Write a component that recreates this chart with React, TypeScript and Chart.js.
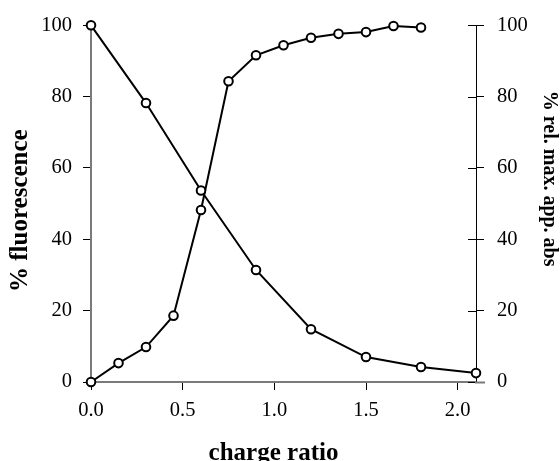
import { useEffect, useRef } from "react";
import { Chart, registerables } from "chart.js";

Chart.register(...registerables);

// ---- data ----
const fluorX = [0, 0.3, 0.6, 0.9, 1.2, 1.5, 1.8, 2.1];
const fluorY = [100, 78.2, 53.7, 31.4, 14.8, 7.0, 4.2, 2.5];
const absX = [0, 0.15, 0.3, 0.45, 0.6, 0.75, 0.9, 1.05, 1.2, 1.35, 1.5, 1.65, 1.8];
const absY = [0, 5.3, 9.8, 18.6, 48.2, 84.3, 91.6, 94.4, 96.5, 97.6, 98.1, 99.8, 99.4];
const xTicks = [0, 0.5, 1.0, 1.5, 2.0];
const yTicks = [0, 20, 40, 60, 80, 100];
const xTitle = "charge ratio";
const yLeftTitle = "% fluorescence";
const yRightTitle = "% rel. max. app. abs";

const FONT = "'Liberation Serif', 'Times New Roman', serif";
const GRAY = "#7a7a7a";

const extrasPlugin = {
  id: "extras",
  beforeDatasetsDraw(chart: any) {
    const ctx = chart.ctx;
    const y1 = chart.scales.y1;
    const x = chart.scales.x;
    ctx.save();
    // inward part of right-axis ticks
    ctx.strokeStyle = "#000";
    ctx.lineWidth = 1;
    yTicks.forEach((v) => {
      const py = Math.round(y1.getPixelForValue(v)) + 0.5;
      ctx.beginPath();
      ctx.moveTo(y1.left - 8, py);
      ctx.lineTo(y1.left, py);
      ctx.stroke();
    });
    // x-axis line extending past the right axis
    ctx.strokeStyle = GRAY;
    ctx.lineWidth = 2;
    const yb = x.top + 0.5;
    ctx.beginPath();
    ctx.moveTo(chart.chartArea.right - 1, yb);
    ctx.lineTo(chart.chartArea.right + 9, yb);
    ctx.stroke();
    ctx.restore();
  },
  afterDraw(chart: any) {
    const ctx = chart.ctx;
    const area = chart.chartArea;
    const midY = (area.top + area.bottom) / 2;
    const midX = (area.left + area.right) / 2;
    ctx.save();
    ctx.fillStyle = "#000";
    ctx.textAlign = "center";
    ctx.textBaseline = "middle";

    // left axis title
    ctx.save();
    ctx.font = `bold 25px ${FONT}`;
    ctx.translate(21, midY + 7);
    ctx.rotate(-Math.PI / 2);
    ctx.fillText(yLeftTitle, 0, 0);
    ctx.restore();

    // bottom axis title
    ctx.save();
    ctx.font = `bold 25px ${FONT}`;
    ctx.fillText(xTitle, midX - 10, area.bottom + 71.5);
    ctx.restore();

    // right axis title
    ctx.save();
    ctx.font = `bold 20px ${FONT}`;
    ctx.translate(area.right + 73, midY - 25);
    ctx.rotate(Math.PI / 2);
    ctx.fillText(yRightTitle, 0, 0);
    ctx.restore();

    ctx.restore();
  },
};

export default function App() {
  const ref = useRef<HTMLCanvasElement | null>(null);

  useEffect(() => {
    document.body.style.margin = "0";
    const canvas = ref.current;
    if (!canvas) return;

    const pointStyle = {
      pointRadius: 4.3,
      pointHoverRadius: 4.3,
      pointBorderWidth: 2,
      pointBackgroundColor: "#fff",
      pointBorderColor: "#000",
      borderColor: "#000",
      borderWidth: 2,
      tension: 0,
      clip: false as any,
      showLine: true,
    };

    const tickFont = { family: FONT, size: 20.5 };
    const gridOpts = {
      drawOnChartArea: false,
      drawTicks: true,
      tickLength: 8,
      tickColor: "#000",
      tickWidth: 1,
    };

    const chart = new Chart(canvas, {
      type: "scatter",
      data: {
        datasets: [
          {
            label: yLeftTitle,
            data: fluorX.map((v, i) => ({ x: v, y: fluorY[i] })),
            yAxisID: "y",
            ...pointStyle,
          },
          {
            label: yRightTitle,
            data: absX.map((v, i) => ({ x: v, y: absY[i] })),
            yAxisID: "y1",
            ...pointStyle,
          },
        ],
      },
      options: {
        responsive: false,
        animation: false,
        devicePixelRatio: 1,
        layout: { padding: { top: 22, left: 0, right: 0, bottom: 0 } },
        plugins: {
          legend: { display: false },
          tooltip: { enabled: false },
        },
        scales: {
          x: {
            type: "linear",
            position: "bottom",
            min: 0,
            max: 2.1,
            afterBuildTicks: (s: any) => {
              s.ticks = xTicks.map((v) => ({ value: v }));
            },
            afterFit: (s: any) => {
              s.height = 79;
            },
            ticks: {
              color: "#000",
              font: tickFont,
              padding: 8,
              maxRotation: 0,
              callback: (v: any) => Number(v).toFixed(1),
            },
            grid: gridOpts,
            border: { display: true, color: GRAY, width: 2 },
            title: { display: false, text: xTitle },
          },
          y: {
            type: "linear",
            position: "left",
            min: 0,
            max: 100,
            afterBuildTicks: (s: any) => {
              s.ticks = yTicks.map((v) => ({ value: v }));
            },
            afterFit: (s: any) => {
              s.width = 91;
            },
            ticks: {
              color: "#000",
              font: tickFont,
              padding: 11,
            },
            grid: gridOpts,
            border: { display: true, color: GRAY, width: 2 },
            title: { display: false, text: yLeftTitle },
          },
          y1: {
            type: "linear",
            position: "right",
            min: 0,
            max: 100,
            afterBuildTicks: (s: any) => {
              s.ticks = yTicks.map((v) => ({ value: v }));
            },
            afterFit: (s: any) => {
              s.width = 84;
            },
            ticks: {
              color: "#000",
              font: tickFont,
              padding: 13,
            },
            grid: gridOpts,
            border: { display: true, color: "#000", width: 1 },
            title: { display: false, text: yRightTitle },
          },
        },
      },
      plugins: [extrasPlugin],
    });

    return () => chart.destroy();
  }, []);

  return (
    <div style={{ width: 560, height: 461 }}>
      <canvas ref={ref} width={560} height={461} style={{ width: 560, height: 461, display: "block" }} />
    </div>
  );
}
